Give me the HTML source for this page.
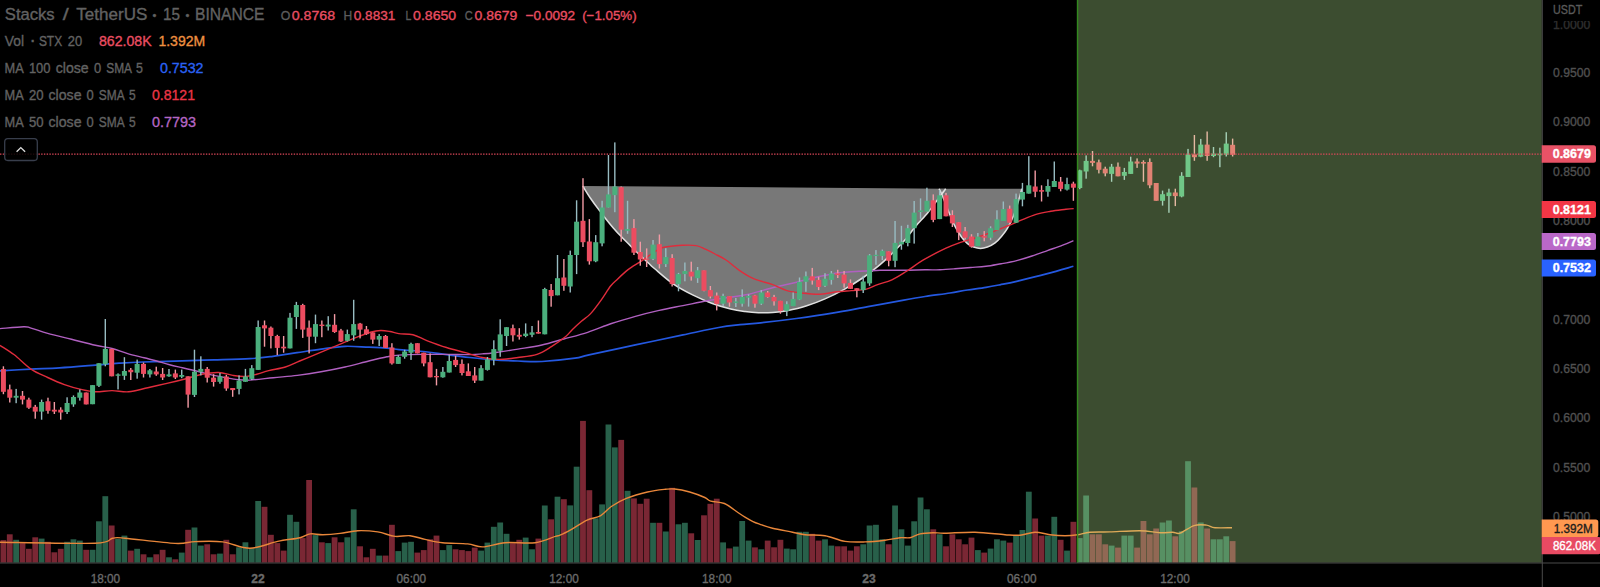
<!DOCTYPE html>
<html><head><meta charset="utf-8"><title>STXUSDT chart</title>
<style>
html,body{margin:0;padding:0;background:#000;width:1600px;height:587px;overflow:hidden}
svg text{font-family:"Liberation Sans",sans-serif;stroke-width:0.35px;paint-order:stroke}
</style></head><body>
<svg width="1600" height="587" viewBox="0 0 1600 587" style="position:absolute;left:0;top:0">
<rect width="1600" height="587" fill="#000"/>
<path d="M582.7,186.0C584.0,188.0 587.5,193.9 590.3,198.0C593.1,202.1 596.9,207.2 599.5,210.6C602.1,214.0 603.4,215.8 605.7,218.7C608.0,221.6 610.8,225.0 613.3,227.9C615.8,230.8 618.4,233.6 621.0,236.3C623.6,239.0 626.2,241.4 628.7,244.0C631.2,246.6 633.8,249.2 636.3,251.7C638.8,254.2 641.7,256.8 644.0,259.0C646.3,261.2 648.5,263.1 650.2,264.7C651.9,266.3 650.5,265.3 654.4,268.5C658.3,271.7 667.1,279.7 673.5,284.1C679.9,288.5 686.2,291.7 692.6,294.9C699.0,298.1 705.2,300.8 711.6,303.2C718.0,305.6 725.1,307.6 730.7,309.0C736.3,310.4 740.4,310.9 745.0,311.5C749.6,312.1 753.8,312.5 758.4,312.7C763.0,312.9 767.9,312.8 772.7,312.5C777.5,312.2 781.5,311.9 787.0,310.8C792.5,309.7 799.7,308.1 806.0,306.1C812.3,304.1 818.6,301.7 825.0,298.9C831.4,296.1 837.8,293.0 844.2,289.4C850.6,285.8 857.7,281.3 863.3,277.5C868.9,273.7 872.8,270.7 877.6,266.7C882.4,262.7 888.2,257.2 891.9,253.6C895.6,250.0 897.6,247.7 900.0,245.2C902.4,242.7 903.7,241.6 906.2,238.5C908.8,235.4 911.7,231.0 915.3,226.7C918.9,222.4 924.0,217.2 927.6,212.9C931.2,208.6 934.5,203.8 936.8,200.7C939.1,197.6 939.9,196.5 941.4,194.5C942.9,192.5 945.0,189.7 945.7,188.7 Z" fill="#787878"/>
<path d="M939.1,188.7C939.6,189.8 940.5,191.3 942.2,195.3C943.9,199.3 946.9,207.7 949.1,212.9C951.3,218.1 953.2,222.7 955.2,226.7C957.2,230.7 959.2,233.9 961.3,236.7C963.3,239.5 965.5,241.9 967.5,243.6C969.5,245.3 971.4,246.3 973.6,247.1C975.8,247.9 978.2,248.5 980.5,248.5C982.8,248.5 985.0,248.0 987.4,247.1C989.8,246.2 992.8,244.6 995.1,242.9C997.4,241.2 999.2,239.1 1001.2,236.7C1003.2,234.3 1005.4,231.8 1007.4,228.3C1009.4,224.9 1011.7,220.3 1013.5,216.0C1015.3,211.7 1016.7,206.8 1018.1,202.2C1019.5,197.6 1021.3,190.9 1021.9,188.7 Z" fill="#787878"/>
<path d="M582.7,186.0C584.0,188.0 587.5,193.9 590.3,198.0C593.1,202.1 596.9,207.2 599.5,210.6C602.1,214.0 603.4,215.8 605.7,218.7C608.0,221.6 610.8,225.0 613.3,227.9C615.8,230.8 618.4,233.6 621.0,236.3C623.6,239.0 626.2,241.4 628.7,244.0C631.2,246.6 633.8,249.2 636.3,251.7C638.8,254.2 641.7,256.8 644.0,259.0C646.3,261.2 648.5,263.1 650.2,264.7C651.9,266.3 650.5,265.3 654.4,268.5C658.3,271.7 667.1,279.7 673.5,284.1C679.9,288.5 686.2,291.7 692.6,294.9C699.0,298.1 705.2,300.8 711.6,303.2C718.0,305.6 725.1,307.6 730.7,309.0C736.3,310.4 740.4,310.9 745.0,311.5C749.6,312.1 753.8,312.5 758.4,312.7C763.0,312.9 767.9,312.8 772.7,312.5C777.5,312.2 781.5,311.9 787.0,310.8C792.5,309.7 799.7,308.1 806.0,306.1C812.3,304.1 818.6,301.7 825.0,298.9C831.4,296.1 837.8,293.0 844.2,289.4C850.6,285.8 857.7,281.3 863.3,277.5C868.9,273.7 872.8,270.7 877.6,266.7C882.4,262.7 888.2,257.2 891.9,253.6C895.6,250.0 897.6,247.7 900.0,245.2C902.4,242.7 903.7,241.6 906.2,238.5C908.8,235.4 911.7,231.0 915.3,226.7C918.9,222.4 924.0,217.2 927.6,212.9C931.2,208.6 934.5,203.8 936.8,200.7C939.1,197.6 939.9,196.5 941.4,194.5C942.9,192.5 945.0,189.7 945.7,188.7" fill="none" stroke="#e0e0e0" stroke-width="1.55" stroke-linejoin="round"/>
<path d="M939.1,188.7C939.6,189.8 940.5,191.3 942.2,195.3C943.9,199.3 946.9,207.7 949.1,212.9C951.3,218.1 953.2,222.7 955.2,226.7C957.2,230.7 959.2,233.9 961.3,236.7C963.3,239.5 965.5,241.9 967.5,243.6C969.5,245.3 971.4,246.3 973.6,247.1C975.8,247.9 978.2,248.5 980.5,248.5C982.8,248.5 985.0,248.0 987.4,247.1C989.8,246.2 992.8,244.6 995.1,242.9C997.4,241.2 999.2,239.1 1001.2,236.7C1003.2,234.3 1005.4,231.8 1007.4,228.3C1009.4,224.9 1011.7,220.3 1013.5,216.0C1015.3,211.7 1016.7,206.8 1018.1,202.2C1019.5,197.6 1021.3,190.9 1021.9,188.7" fill="none" stroke="#e0e0e0" stroke-width="1.55" stroke-linejoin="round"/>
<g>
<rect x="0.50" y="540.1" width="5.8" height="22.5" fill="#7a2734"/>
<rect x="6.87" y="534.3" width="5.8" height="28.3" fill="#7a2734"/>
<rect x="13.24" y="539.8" width="5.8" height="22.8" fill="#28604a"/>
<rect x="19.61" y="543.1" width="5.8" height="19.5" fill="#7a2734"/>
<rect x="25.98" y="548.8" width="5.8" height="13.8" fill="#7a2734"/>
<rect x="32.34" y="537.3" width="5.8" height="25.3" fill="#7a2734"/>
<rect x="38.71" y="538.6" width="5.8" height="24.0" fill="#28604a"/>
<rect x="45.08" y="541.8" width="5.8" height="20.8" fill="#7a2734"/>
<rect x="51.45" y="552.3" width="5.8" height="10.3" fill="#7a2734"/>
<rect x="57.82" y="548.8" width="5.8" height="13.8" fill="#7a2734"/>
<rect x="64.19" y="541.8" width="5.8" height="20.8" fill="#28604a"/>
<rect x="70.56" y="539.3" width="5.8" height="23.3" fill="#28604a"/>
<rect x="76.93" y="540.6" width="5.8" height="22.0" fill="#28604a"/>
<rect x="83.30" y="549.8" width="5.8" height="12.8" fill="#7a2734"/>
<rect x="89.67" y="549.8" width="5.8" height="12.8" fill="#28604a"/>
<rect x="96.03" y="521.3" width="5.8" height="41.3" fill="#28604a"/>
<rect x="102.40" y="496.2" width="5.8" height="66.4" fill="#28604a"/>
<rect x="108.77" y="525.5" width="5.8" height="37.1" fill="#7a2734"/>
<rect x="115.14" y="538.8" width="5.8" height="23.8" fill="#28604a"/>
<rect x="121.51" y="535.6" width="5.8" height="27.0" fill="#28604a"/>
<rect x="127.88" y="550.6" width="5.8" height="12.0" fill="#7a2734"/>
<rect x="134.25" y="548.8" width="5.8" height="13.8" fill="#28604a"/>
<rect x="140.62" y="554.3" width="5.8" height="8.3" fill="#7a2734"/>
<rect x="146.99" y="557.3" width="5.8" height="5.3" fill="#28604a"/>
<rect x="153.36" y="554.3" width="5.8" height="8.3" fill="#7a2734"/>
<rect x="159.72" y="549.8" width="5.8" height="12.8" fill="#7a2734"/>
<rect x="166.09" y="557.3" width="5.8" height="5.3" fill="#28604a"/>
<rect x="172.46" y="559.3" width="5.8" height="3.3" fill="#7a2734"/>
<rect x="178.83" y="552.6" width="5.8" height="10.0" fill="#28604a"/>
<rect x="185.20" y="529.8" width="5.8" height="32.8" fill="#7a2734"/>
<rect x="191.57" y="527.5" width="5.8" height="35.1" fill="#28604a"/>
<rect x="197.94" y="545.6" width="5.8" height="17.0" fill="#28604a"/>
<rect x="204.31" y="544.3" width="5.8" height="18.3" fill="#7a2734"/>
<rect x="210.68" y="554.3" width="5.8" height="8.3" fill="#7a2734"/>
<rect x="217.05" y="553.6" width="5.8" height="9.0" fill="#28604a"/>
<rect x="223.41" y="539.8" width="5.8" height="22.8" fill="#7a2734"/>
<rect x="229.78" y="554.3" width="5.8" height="8.3" fill="#7a2734"/>
<rect x="236.15" y="547.3" width="5.8" height="15.3" fill="#28604a"/>
<rect x="242.52" y="542.3" width="5.8" height="20.3" fill="#28604a"/>
<rect x="248.89" y="548.1" width="5.8" height="14.5" fill="#28604a"/>
<rect x="255.26" y="501.0" width="5.8" height="61.6" fill="#28604a"/>
<rect x="261.63" y="506.8" width="5.8" height="55.8" fill="#7a2734"/>
<rect x="268.00" y="534.8" width="5.8" height="27.8" fill="#7a2734"/>
<rect x="274.37" y="543.1" width="5.8" height="19.5" fill="#7a2734"/>
<rect x="280.74" y="550.6" width="5.8" height="12.0" fill="#7a2734"/>
<rect x="287.11" y="514.8" width="5.8" height="47.8" fill="#28604a"/>
<rect x="293.47" y="521.8" width="5.8" height="40.8" fill="#28604a"/>
<rect x="299.84" y="538.1" width="5.8" height="24.5" fill="#7a2734"/>
<rect x="306.21" y="480.0" width="5.8" height="82.6" fill="#7a2734"/>
<rect x="312.58" y="535.1" width="5.8" height="27.5" fill="#28604a"/>
<rect x="318.95" y="542.3" width="5.8" height="20.3" fill="#7a2734"/>
<rect x="325.32" y="543.1" width="5.8" height="19.5" fill="#28604a"/>
<rect x="331.69" y="537.3" width="5.8" height="25.3" fill="#7a2734"/>
<rect x="338.06" y="542.3" width="5.8" height="20.3" fill="#7a2734"/>
<rect x="344.43" y="537.3" width="5.8" height="25.3" fill="#28604a"/>
<rect x="350.79" y="509.3" width="5.8" height="53.3" fill="#28604a"/>
<rect x="357.16" y="546.3" width="5.8" height="16.3" fill="#7a2734"/>
<rect x="363.53" y="557.3" width="5.8" height="5.3" fill="#7a2734"/>
<rect x="369.90" y="548.8" width="5.8" height="13.8" fill="#7a2734"/>
<rect x="376.27" y="555.6" width="5.8" height="7.0" fill="#28604a"/>
<rect x="382.64" y="555.6" width="5.8" height="7.0" fill="#7a2734"/>
<rect x="389.01" y="524.8" width="5.8" height="37.8" fill="#7a2734"/>
<rect x="395.38" y="551.1" width="5.8" height="11.5" fill="#28604a"/>
<rect x="401.75" y="542.6" width="5.8" height="20.0" fill="#28604a"/>
<rect x="408.12" y="541.8" width="5.8" height="20.8" fill="#28604a"/>
<rect x="414.49" y="552.6" width="5.8" height="10.0" fill="#7a2734"/>
<rect x="420.85" y="550.1" width="5.8" height="12.5" fill="#7a2734"/>
<rect x="427.22" y="539.3" width="5.8" height="23.3" fill="#7a2734"/>
<rect x="433.59" y="535.6" width="5.8" height="27.0" fill="#7a2734"/>
<rect x="439.96" y="550.1" width="5.8" height="12.5" fill="#28604a"/>
<rect x="446.33" y="545.1" width="5.8" height="17.5" fill="#28604a"/>
<rect x="452.70" y="549.3" width="5.8" height="13.3" fill="#7a2734"/>
<rect x="459.07" y="550.1" width="5.8" height="12.5" fill="#7a2734"/>
<rect x="465.44" y="551.1" width="5.8" height="11.5" fill="#7a2734"/>
<rect x="471.81" y="547.6" width="5.8" height="15.0" fill="#7a2734"/>
<rect x="478.17" y="550.6" width="5.8" height="12.0" fill="#28604a"/>
<rect x="484.54" y="542.6" width="5.8" height="20.0" fill="#28604a"/>
<rect x="490.91" y="526.8" width="5.8" height="35.8" fill="#28604a"/>
<rect x="497.28" y="522.5" width="5.8" height="40.1" fill="#28604a"/>
<rect x="503.65" y="533.8" width="5.8" height="28.8" fill="#28604a"/>
<rect x="510.02" y="543.1" width="5.8" height="19.5" fill="#7a2734"/>
<rect x="516.39" y="539.8" width="5.8" height="22.8" fill="#7a2734"/>
<rect x="522.76" y="537.6" width="5.8" height="25.0" fill="#28604a"/>
<rect x="529.13" y="549.3" width="5.8" height="13.3" fill="#28604a"/>
<rect x="535.50" y="538.6" width="5.8" height="24.0" fill="#7a2734"/>
<rect x="541.87" y="505.5" width="5.8" height="57.1" fill="#28604a"/>
<rect x="548.23" y="519.3" width="5.8" height="43.3" fill="#7a2734"/>
<rect x="554.60" y="496.7" width="5.8" height="65.9" fill="#28604a"/>
<rect x="560.97" y="499.2" width="5.8" height="63.4" fill="#7a2734"/>
<rect x="567.34" y="505.4" width="5.8" height="57.2" fill="#28604a"/>
<rect x="573.71" y="466.7" width="5.8" height="95.9" fill="#28604a"/>
<rect x="580.08" y="420.9" width="5.8" height="141.7" fill="#7a2734"/>
<rect x="586.45" y="490.2" width="5.8" height="72.4" fill="#7a2734"/>
<rect x="592.82" y="518.3" width="5.8" height="44.3" fill="#28604a"/>
<rect x="599.19" y="504.4" width="5.8" height="58.2" fill="#28604a"/>
<rect x="605.55" y="424.5" width="5.8" height="138.1" fill="#28604a"/>
<rect x="611.92" y="447.4" width="5.8" height="115.2" fill="#28604a"/>
<rect x="618.29" y="439.9" width="5.8" height="122.7" fill="#7a2734"/>
<rect x="624.66" y="490.8" width="5.8" height="71.8" fill="#28604a"/>
<rect x="631.03" y="498.4" width="5.8" height="64.2" fill="#7a2734"/>
<rect x="637.40" y="503.8" width="5.8" height="58.8" fill="#7a2734"/>
<rect x="643.77" y="498.7" width="5.8" height="63.9" fill="#7a2734"/>
<rect x="650.14" y="522.8" width="5.8" height="39.8" fill="#28604a"/>
<rect x="656.51" y="522.8" width="5.8" height="39.8" fill="#7a2734"/>
<rect x="662.88" y="531.5" width="5.8" height="31.1" fill="#28604a"/>
<rect x="669.25" y="487.8" width="5.8" height="74.8" fill="#7a2734"/>
<rect x="675.61" y="524.3" width="5.8" height="38.3" fill="#28604a"/>
<rect x="681.98" y="522.8" width="5.8" height="39.8" fill="#28604a"/>
<rect x="688.35" y="533.3" width="5.8" height="29.3" fill="#7a2734"/>
<rect x="694.72" y="540.0" width="5.8" height="22.6" fill="#28604a"/>
<rect x="701.09" y="515.3" width="5.8" height="47.3" fill="#7a2734"/>
<rect x="707.46" y="503.8" width="5.8" height="58.8" fill="#7a2734"/>
<rect x="713.83" y="498.7" width="5.8" height="63.9" fill="#7a2734"/>
<rect x="720.20" y="542.4" width="5.8" height="20.2" fill="#28604a"/>
<rect x="726.57" y="548.4" width="5.8" height="14.2" fill="#7a2734"/>
<rect x="732.93" y="546.6" width="5.8" height="16.0" fill="#28604a"/>
<rect x="739.30" y="521.0" width="5.8" height="41.6" fill="#28604a"/>
<rect x="745.67" y="540.6" width="5.8" height="22.0" fill="#28604a"/>
<rect x="752.04" y="547.4" width="5.8" height="15.2" fill="#7a2734"/>
<rect x="758.41" y="549.3" width="5.8" height="13.3" fill="#28604a"/>
<rect x="764.78" y="540.6" width="5.8" height="22.0" fill="#7a2734"/>
<rect x="771.15" y="547.3" width="5.8" height="15.3" fill="#7a2734"/>
<rect x="777.52" y="539.8" width="5.8" height="22.8" fill="#7a2734"/>
<rect x="783.89" y="548.6" width="5.8" height="14.0" fill="#28604a"/>
<rect x="790.26" y="549.3" width="5.8" height="13.3" fill="#28604a"/>
<rect x="796.62" y="531.8" width="5.8" height="30.8" fill="#28604a"/>
<rect x="802.99" y="531.8" width="5.8" height="30.8" fill="#28604a"/>
<rect x="809.36" y="533.8" width="5.8" height="28.8" fill="#7a2734"/>
<rect x="815.73" y="540.6" width="5.8" height="22.0" fill="#7a2734"/>
<rect x="822.10" y="539.3" width="5.8" height="23.3" fill="#28604a"/>
<rect x="828.47" y="545.6" width="5.8" height="17.0" fill="#28604a"/>
<rect x="834.84" y="546.3" width="5.8" height="16.3" fill="#7a2734"/>
<rect x="841.21" y="546.3" width="5.8" height="16.3" fill="#7a2734"/>
<rect x="847.58" y="550.6" width="5.8" height="12.0" fill="#7a2734"/>
<rect x="853.95" y="546.3" width="5.8" height="16.3" fill="#7a2734"/>
<rect x="860.31" y="544.3" width="5.8" height="18.3" fill="#28604a"/>
<rect x="866.68" y="525.5" width="5.8" height="37.1" fill="#28604a"/>
<rect x="873.05" y="524.8" width="5.8" height="37.8" fill="#28604a"/>
<rect x="879.42" y="539.3" width="5.8" height="23.3" fill="#28604a"/>
<rect x="885.79" y="544.3" width="5.8" height="18.3" fill="#7a2734"/>
<rect x="892.16" y="505.5" width="5.8" height="57.1" fill="#28604a"/>
<rect x="898.53" y="529.3" width="5.8" height="33.3" fill="#28604a"/>
<rect x="904.90" y="545.6" width="5.8" height="17.0" fill="#28604a"/>
<rect x="911.27" y="521.3" width="5.8" height="41.3" fill="#28604a"/>
<rect x="917.64" y="497.5" width="5.8" height="65.1" fill="#28604a"/>
<rect x="924.00" y="509.3" width="5.8" height="53.3" fill="#28604a"/>
<rect x="930.37" y="529.3" width="5.8" height="33.3" fill="#7a2734"/>
<rect x="936.74" y="534.3" width="5.8" height="28.3" fill="#28604a"/>
<rect x="943.11" y="546.3" width="5.8" height="16.3" fill="#7a2734"/>
<rect x="949.48" y="534.3" width="5.8" height="28.3" fill="#7a2734"/>
<rect x="955.85" y="539.3" width="5.8" height="23.3" fill="#7a2734"/>
<rect x="962.22" y="544.3" width="5.8" height="18.3" fill="#7a2734"/>
<rect x="968.59" y="537.6" width="5.8" height="25.0" fill="#7a2734"/>
<rect x="974.96" y="550.1" width="5.8" height="12.5" fill="#28604a"/>
<rect x="981.33" y="552.6" width="5.8" height="10.0" fill="#7a2734"/>
<rect x="987.69" y="548.6" width="5.8" height="14.0" fill="#28604a"/>
<rect x="994.06" y="539.3" width="5.8" height="23.3" fill="#28604a"/>
<rect x="1000.43" y="540.6" width="5.8" height="22.0" fill="#28604a"/>
<rect x="1006.80" y="542.6" width="5.8" height="20.0" fill="#7a2734"/>
<rect x="1013.17" y="535.6" width="5.8" height="27.0" fill="#28604a"/>
<rect x="1019.54" y="530.0" width="5.8" height="32.6" fill="#28604a"/>
<rect x="1025.91" y="491.7" width="5.8" height="70.9" fill="#28604a"/>
<rect x="1032.28" y="518.5" width="5.8" height="44.1" fill="#7a2734"/>
<rect x="1038.65" y="535.6" width="5.8" height="27.0" fill="#7a2734"/>
<rect x="1045.02" y="535.6" width="5.8" height="27.0" fill="#28604a"/>
<rect x="1051.38" y="516.8" width="5.8" height="45.8" fill="#28604a"/>
<rect x="1057.75" y="539.8" width="5.8" height="22.8" fill="#7a2734"/>
<rect x="1064.12" y="550.6" width="5.8" height="12.0" fill="#28604a"/>
<rect x="1070.49" y="521.8" width="5.8" height="40.8" fill="#7a2734"/>
<rect x="1076.86" y="538.1" width="5.8" height="24.5" fill="#28604a"/>
<rect x="1083.23" y="495.5" width="5.8" height="67.1" fill="#28604a"/>
<rect x="1089.60" y="534.3" width="5.8" height="28.3" fill="#7a2734"/>
<rect x="1095.97" y="534.3" width="5.8" height="28.3" fill="#7a2734"/>
<rect x="1102.34" y="544.3" width="5.8" height="18.3" fill="#7a2734"/>
<rect x="1108.71" y="545.6" width="5.8" height="17.0" fill="#28604a"/>
<rect x="1115.08" y="547.6" width="5.8" height="15.0" fill="#7a2734"/>
<rect x="1121.44" y="535.6" width="5.8" height="27.0" fill="#28604a"/>
<rect x="1127.81" y="535.6" width="5.8" height="27.0" fill="#28604a"/>
<rect x="1134.18" y="547.6" width="5.8" height="15.0" fill="#7a2734"/>
<rect x="1140.55" y="521.0" width="5.8" height="41.6" fill="#7a2734"/>
<rect x="1146.92" y="534.3" width="5.8" height="28.3" fill="#7a2734"/>
<rect x="1153.29" y="528.5" width="5.8" height="34.1" fill="#7a2734"/>
<rect x="1159.66" y="522.5" width="5.8" height="40.1" fill="#28604a"/>
<rect x="1166.03" y="520.5" width="5.8" height="42.1" fill="#28604a"/>
<rect x="1172.40" y="536.3" width="5.8" height="26.3" fill="#7a2734"/>
<rect x="1178.76" y="531.3" width="5.8" height="31.3" fill="#28604a"/>
<rect x="1185.13" y="461.2" width="5.8" height="101.4" fill="#28604a"/>
<rect x="1191.50" y="487.5" width="5.8" height="75.1" fill="#7a2734"/>
<rect x="1197.87" y="522.5" width="5.8" height="40.1" fill="#28604a"/>
<rect x="1204.24" y="528.5" width="5.8" height="34.1" fill="#7a2734"/>
<rect x="1210.61" y="539.3" width="5.8" height="23.3" fill="#28604a"/>
<rect x="1216.98" y="539.3" width="5.8" height="23.3" fill="#28604a"/>
<rect x="1223.35" y="536.3" width="5.8" height="26.3" fill="#28604a"/>
<rect x="1229.72" y="541.1" width="5.8" height="21.5" fill="#7a2734"/>
</g>
<path d="M0.0,542.2C15.8,542.4 76.2,543.9 95.0,543.2C113.8,542.5 107.7,539.0 112.7,538.2C117.7,537.4 114.6,537.3 125.0,538.2C135.4,539.1 163.3,542.8 175.0,543.4C186.7,544.0 187.1,541.9 195.0,541.6C202.9,541.4 213.4,540.8 222.6,541.9C231.8,543.0 240.8,548.3 250.0,548.2C259.2,548.1 269.4,543.1 277.7,541.4C286.0,539.6 294.6,539.0 300.0,537.7C305.4,536.5 306.4,534.4 310.2,533.9C314.0,533.4 317.7,534.8 322.7,534.7C327.7,534.6 334.1,534.1 340.0,533.4C345.9,532.7 351.5,531.0 357.8,530.7C364.1,530.5 371.6,531.0 377.8,531.9C384.0,532.8 389.6,535.8 395.0,536.4C400.4,537.0 405.0,535.2 410.0,535.7C415.0,536.2 419.6,538.2 425.0,539.4C430.4,540.6 435.5,542.0 442.6,542.7C449.7,543.5 461.0,543.2 467.7,543.9C474.4,544.6 476.4,547.1 482.7,546.9C488.9,546.7 496.4,543.4 505.2,542.7C514.0,542.0 526.9,543.8 535.3,542.7C543.6,541.7 551.2,537.6 555.3,536.4C559.4,535.1 557.2,536.4 560.0,535.2C562.8,534.0 567.5,531.6 572.0,529.1C576.5,526.6 582.3,522.4 587.1,520.1C591.9,517.9 596.7,517.9 600.7,515.6C604.7,513.3 607.0,509.4 611.3,506.5C615.6,503.6 620.3,500.8 626.3,498.4C632.3,496.0 641.0,493.5 647.5,492.0C654.0,490.5 661.0,489.8 665.5,489.3C670.0,488.8 670.6,488.6 674.6,489.0C678.6,489.4 684.7,490.6 689.7,492.0C694.7,493.4 701.3,496.0 704.8,497.5C708.3,499.0 707.5,500.1 710.8,501.1C714.1,502.1 719.9,501.6 724.4,503.5C728.9,505.4 734.5,510.2 737.9,512.5C741.3,514.8 742.5,515.6 745.0,517.1C747.5,518.6 750.5,520.4 753.0,521.6C755.5,522.8 756.8,523.2 760.0,524.3C763.2,525.4 767.1,526.9 772.5,528.2C777.9,529.5 787.2,531.1 792.6,532.2C798.0,533.3 799.6,534.1 805.0,534.7C810.4,535.3 818.3,534.6 825.0,535.7C831.7,536.8 838.3,540.4 845.0,541.4C851.7,542.4 858.3,542.1 865.0,541.9C871.7,541.7 879.2,540.9 885.0,540.2C890.8,539.5 895.8,538.1 900.0,537.7C904.2,537.3 906.7,538.3 910.0,537.7C913.3,537.1 916.2,534.7 920.0,533.9C923.8,533.1 928.8,532.8 933.0,532.7C937.2,532.6 938.0,533.3 945.0,533.2C952.0,533.1 965.0,532.0 975.0,532.2C985.0,532.5 997.5,534.2 1005.0,534.7C1012.5,535.2 1015.0,535.6 1020.0,535.2C1025.0,534.8 1030.0,532.3 1035.0,532.2C1040.0,532.1 1045.0,534.1 1050.0,534.7C1055.0,535.3 1060.4,535.7 1065.0,535.7C1069.6,535.7 1073.6,535.3 1077.8,534.7C1082.0,534.1 1084.6,532.7 1090.0,532.2C1095.4,531.7 1101.7,532.1 1110.0,531.9C1118.3,531.6 1131.7,530.6 1140.0,530.7C1148.3,530.8 1154.6,532.5 1160.0,532.7C1165.4,533.0 1169.3,532.1 1172.6,532.2C1175.9,532.3 1176.4,534.3 1180.0,533.2C1183.6,532.1 1189.6,527.0 1194.0,525.6C1198.4,524.2 1202.9,524.8 1206.4,525.1C1209.9,525.5 1210.7,527.3 1215.0,527.7C1219.3,528.1 1229.2,527.7 1232.0,527.7" fill="none" stroke="#e8863a" stroke-width="1.4"/>
<path d="M0.0,370.8C5.2,370.5 21.1,369.6 31.0,369.1C40.9,368.6 48.9,368.6 59.6,367.9C70.3,367.2 85.5,365.9 95.4,365.1C105.3,364.3 111.1,363.7 119.0,363.2C126.9,362.7 131.2,362.4 143.0,362.0C154.8,361.6 178.2,361.0 190.0,360.6C201.8,360.2 204.0,360.2 214.0,359.9C224.0,359.6 240.2,359.3 250.0,358.7C259.8,358.1 265.2,357.3 273.0,356.3C280.8,355.3 289.0,353.9 297.0,352.7C305.0,351.5 313.0,350.2 321.0,349.1C329.0,348.0 337.0,346.6 345.0,346.3C353.0,346.0 361.5,346.9 369.0,347.2C376.5,347.5 385.0,348.0 390.0,348.4C395.0,348.8 393.5,349.1 399.0,349.6C404.5,350.1 415.1,350.7 423.0,351.5C430.9,352.3 438.7,353.6 446.5,354.6C454.3,355.6 462.1,356.6 470.0,357.5C477.9,358.4 486.0,359.3 494.0,359.9C502.0,360.5 510.0,360.7 518.0,361.0C526.0,361.3 532.5,362.0 542.0,361.5C551.5,361.0 567.2,359.3 575.0,358.2C582.8,357.1 578.9,357.1 589.0,354.9C599.1,352.7 619.7,348.2 635.4,344.9C651.1,341.6 669.1,337.8 683.0,334.9C696.9,332.0 709.3,329.2 718.8,327.5C728.3,325.8 733.0,325.5 740.0,324.7C747.0,323.9 751.4,323.8 760.8,322.8C770.2,321.8 784.6,320.1 796.5,318.5C808.4,316.9 820.4,315.2 832.3,313.2C844.2,311.2 856.1,308.8 868.0,306.6C879.9,304.4 894.3,301.8 903.8,300.1C913.3,298.4 917.3,297.7 925.0,296.5C932.7,295.3 942.9,294.1 950.0,293.0C957.1,291.9 961.6,290.9 967.6,290.0C973.6,289.1 980.6,288.3 986.0,287.4C991.4,286.5 994.9,285.8 1000.0,284.8C1005.1,283.8 1008.8,283.2 1016.7,281.3C1024.6,279.4 1038.0,276.1 1047.4,273.6C1056.9,271.1 1069.1,267.5 1073.4,266.3" fill="none" stroke="#2458e0" stroke-width="1.7"/>
<path d="M0.0,328.6C4.0,328.3 18.6,326.8 23.8,326.7C29.0,326.6 27.0,327.0 31.0,328.1C35.0,329.2 41.0,331.5 47.7,333.4C54.5,335.3 63.5,337.3 71.5,339.3C79.5,341.3 88.7,343.8 95.4,345.3C102.2,346.8 106.7,347.2 112.0,348.5C117.3,349.8 121.7,351.8 127.0,353.3C132.3,354.9 139.1,356.5 144.1,357.8C149.1,359.1 152.6,359.8 156.8,361.0C161.1,362.2 165.3,363.7 169.6,364.8C173.9,365.9 178.1,366.8 182.4,367.8C186.7,368.8 191.6,370.0 195.2,370.8C198.8,371.6 200.6,372.1 203.7,372.9C206.8,373.7 210.1,374.6 213.8,375.4C217.5,376.2 221.8,377.0 225.8,377.7C229.8,378.4 233.7,379.2 237.7,379.6C241.7,380.0 243.7,380.4 249.6,380.1C255.5,379.8 265.4,378.5 273.4,377.7C281.3,376.9 289.4,376.4 297.3,375.4C305.2,374.4 313.1,373.2 321.0,371.8C328.9,370.4 337.0,368.8 345.0,367.0C353.0,365.2 361.8,362.7 368.8,361.0C375.8,359.3 382.0,357.8 387.0,356.8C392.0,355.8 392.9,355.5 398.8,355.1C404.8,354.7 414.8,354.5 422.7,354.4C430.6,354.3 438.6,354.4 446.5,354.4C454.4,354.4 464.4,354.7 470.4,354.6C476.4,354.5 478.3,354.2 482.3,353.9C486.3,353.6 488.2,353.5 494.2,352.7C500.1,351.9 510.1,350.4 518.0,349.1C526.0,347.8 534.3,346.7 541.9,345.0C549.5,343.3 556.2,341.1 563.8,339.0C571.4,336.9 579.8,334.9 587.7,332.3C595.7,329.7 603.5,326.2 611.5,323.5C619.5,320.8 627.4,318.5 635.4,316.3C643.4,314.1 651.3,312.2 659.2,310.4C667.1,308.6 675.0,307.2 683.0,305.6C691.0,304.0 699.9,302.1 706.9,300.8C713.9,299.5 718.0,299.1 725.0,298.0C732.0,296.9 740.8,295.9 748.8,294.2C756.8,292.5 764.8,289.7 772.7,287.7C780.7,285.7 788.5,284.1 796.5,282.2C804.5,280.3 813.2,277.9 820.4,276.3C827.5,274.7 833.5,273.5 839.4,272.7C845.3,271.9 849.2,271.9 856.0,271.5C862.8,271.1 872.0,270.5 880.0,270.3C888.0,270.1 896.3,270.4 903.8,270.3C911.3,270.2 919.0,269.9 925.0,269.8C931.0,269.7 935.0,270.0 940.0,269.8C945.0,269.6 949.9,269.2 955.0,268.8C960.1,268.4 965.5,267.9 970.7,267.5C975.9,267.1 980.9,266.9 986.0,266.3C991.1,265.7 996.2,264.6 1001.3,263.7C1006.4,262.8 1011.6,261.9 1016.7,260.6C1021.8,259.3 1026.9,257.7 1032.0,256.0C1037.1,254.3 1042.3,252.4 1047.4,250.6C1052.5,248.8 1058.4,246.9 1062.7,245.2C1067.0,243.5 1071.6,241.4 1073.4,240.6" fill="none" stroke="#b060c0" stroke-width="1.4"/>
<path d="M0.0,345.3C2.4,346.9 9.1,350.8 14.3,354.8C19.5,358.8 25.4,365.3 31.0,369.1C36.6,372.9 42.1,374.9 47.7,377.5C53.3,380.1 58.9,382.6 64.4,384.6C70.0,386.6 75.8,388.2 81.0,389.4C86.2,390.6 90.2,391.6 95.4,391.8C100.6,392.0 106.5,390.6 112.0,390.6C117.5,390.6 122.7,392.3 128.7,391.8C134.7,391.3 141.4,389.1 147.8,387.7C154.2,386.3 160.5,384.9 166.9,383.4C173.3,381.9 180.2,380.2 186.0,378.7C191.8,377.2 196.6,375.2 202.0,374.2C207.4,373.2 213.4,372.3 218.6,372.5C223.8,372.7 228.5,374.7 232.9,375.4C237.3,376.1 240.8,376.7 244.8,376.5C248.8,376.3 252.7,375.2 256.7,374.2C260.7,373.2 263.9,371.8 268.7,370.6C273.5,369.4 280.2,368.6 285.4,367.0C290.6,365.4 294.9,363.0 299.7,361.0C304.5,359.0 309.2,357.1 314.0,355.1C318.8,353.1 323.5,351.1 328.3,349.1C333.1,347.1 337.8,345.2 342.6,343.2C347.4,341.2 352.1,339.1 356.9,337.2C361.7,335.3 367.2,333.1 371.2,332.0C375.2,330.9 377.6,330.6 380.7,330.5C383.8,330.4 387.0,331.0 390.0,331.5C393.0,332.0 395.0,333.1 398.8,333.6C402.6,334.2 408.2,333.6 413.0,334.8C417.8,336.0 421.8,338.7 427.4,340.8C433.0,342.9 440.1,345.5 446.5,347.5C452.9,349.5 459.6,351.0 465.6,352.7C471.6,354.4 476.7,356.4 482.3,357.5C487.9,358.6 493.1,359.4 499.0,359.4C504.9,359.4 511.7,358.3 518.0,357.5C524.3,356.7 531.4,356.2 537.0,354.4C542.6,352.6 546.6,349.7 551.4,346.7C556.2,343.7 562.2,339.3 565.7,336.5C569.2,333.7 569.6,332.2 572.2,329.7C574.8,327.2 578.3,324.0 581.4,321.3C584.5,318.6 587.3,317.2 590.6,313.6C593.9,310.0 598.0,304.4 601.3,299.8C604.6,295.2 608.0,289.3 610.6,286.0C613.2,282.7 614.2,282.3 616.7,279.9C619.2,277.5 623.4,273.6 625.9,271.4C628.4,269.2 629.7,268.3 632.0,266.8C634.3,265.3 637.1,263.9 639.7,262.2C642.3,260.5 645.1,258.5 647.4,256.9C649.7,255.3 651.2,253.9 653.5,252.5C655.8,251.1 658.6,249.3 660.9,248.4C663.1,247.5 663.4,247.3 667.0,246.8C670.6,246.3 677.5,245.5 682.4,245.3C687.3,245.1 692.4,244.9 696.2,245.6C700.0,246.2 702.3,247.8 705.4,249.2C708.5,250.6 711.6,252.2 715.0,254.0C718.4,255.8 722.0,257.3 726.0,260.0C730.0,262.7 734.7,267.2 739.3,270.3C743.9,273.4 748.0,276.3 753.6,278.7C759.2,281.1 767.1,282.6 772.7,284.6C778.3,286.6 782.2,289.2 787.0,290.6C791.8,292.0 795.7,292.4 801.3,293.0C806.9,293.6 814.4,294.4 820.4,294.2C826.4,294.0 831.9,292.4 837.0,291.8C842.1,291.2 846.5,291.0 851.3,290.6C856.1,290.2 861.2,290.4 865.6,289.4C870.0,288.4 873.2,286.2 877.6,284.6C882.0,283.0 887.1,282.1 891.9,279.9C896.7,277.7 901.0,274.8 906.2,271.5C911.4,268.2 916.4,264.1 923.0,260.2C929.6,256.3 939.6,251.2 946.0,248.2C952.4,245.2 956.2,243.9 961.3,242.1C966.4,240.3 971.6,239.2 976.7,237.5C981.8,235.8 986.9,234.0 992.0,232.1C997.1,230.2 1002.7,227.9 1007.4,226.0C1012.1,224.1 1015.4,222.6 1020.0,220.7C1024.7,218.8 1030.2,216.2 1035.3,214.6C1040.4,213.0 1045.6,212.2 1050.7,211.3C1055.8,210.4 1062.2,209.8 1066.0,209.3C1069.8,208.9 1072.4,208.7 1073.7,208.6" fill="none" stroke="#e02c3c" stroke-width="1.4"/>
<g>
<rect x="2.70" y="366.3" width="1.4" height="27.9" fill="#f29aa4"/>
<rect x="0.90" y="369.1" width="5" height="22.7" fill="#ec4c60"/>
<rect x="9.07" y="384.6" width="1.4" height="17.9" fill="#f29aa4"/>
<rect x="7.27" y="389.4" width="5" height="8.3" fill="#ec4c60"/>
<rect x="15.44" y="388.9" width="1.4" height="14.3" fill="#98bcc2"/>
<rect x="13.64" y="395.8" width="5" height="1.9" fill="#4baf7d"/>
<rect x="21.81" y="391.0" width="1.4" height="13.4" fill="#f29aa4"/>
<rect x="20.01" y="395.8" width="5" height="3.8" fill="#ec4c60"/>
<rect x="28.18" y="397.7" width="1.4" height="11.2" fill="#f29aa4"/>
<rect x="26.38" y="399.6" width="5" height="8.1" fill="#ec4c60"/>
<rect x="34.54" y="404.9" width="1.4" height="13.8" fill="#f29aa4"/>
<rect x="32.74" y="406.8" width="5" height="4.8" fill="#ec4c60"/>
<rect x="40.91" y="399.6" width="1.4" height="20.1" fill="#98bcc2"/>
<rect x="39.11" y="402.0" width="5" height="9.6" fill="#4baf7d"/>
<rect x="47.28" y="397.7" width="1.4" height="16.0" fill="#f29aa4"/>
<rect x="45.48" y="401.3" width="5" height="9.5" fill="#ec4c60"/>
<rect x="53.65" y="402.0" width="1.4" height="12.0" fill="#f29aa4"/>
<rect x="51.85" y="409.7" width="5" height="1.9" fill="#ec4c60"/>
<rect x="60.02" y="407.3" width="1.4" height="12.4" fill="#f29aa4"/>
<rect x="58.22" y="409.7" width="5" height="2.8" fill="#ec4c60"/>
<rect x="66.39" y="397.3" width="1.4" height="16.7" fill="#98bcc2"/>
<rect x="64.59" y="403.0" width="5" height="9.0" fill="#4baf7d"/>
<rect x="72.76" y="395.4" width="1.4" height="11.4" fill="#98bcc2"/>
<rect x="70.96" y="397.0" width="5" height="7.4" fill="#4baf7d"/>
<rect x="79.13" y="389.4" width="1.4" height="11.2" fill="#98bcc2"/>
<rect x="77.33" y="392.5" width="5" height="5.2" fill="#4baf7d"/>
<rect x="85.50" y="392.5" width="1.4" height="11.9" fill="#f29aa4"/>
<rect x="83.70" y="392.5" width="5" height="11.9" fill="#ec4c60"/>
<rect x="91.87" y="385.1" width="1.4" height="19.1" fill="#98bcc2"/>
<rect x="90.07" y="385.1" width="5" height="19.1" fill="#4baf7d"/>
<rect x="98.23" y="363.2" width="1.4" height="23.8" fill="#98bcc2"/>
<rect x="96.44" y="363.2" width="5" height="22.6" fill="#4baf7d"/>
<rect x="104.60" y="319.0" width="1.4" height="47.3" fill="#98bcc2"/>
<rect x="102.80" y="348.9" width="5" height="15.5" fill="#4baf7d"/>
<rect x="110.97" y="348.9" width="1.4" height="27.4" fill="#f29aa4"/>
<rect x="109.17" y="348.9" width="5" height="27.4" fill="#ec4c60"/>
<rect x="117.34" y="373.4" width="1.4" height="16.0" fill="#98bcc2"/>
<rect x="115.54" y="374.4" width="5" height="1.4" fill="#4baf7d"/>
<rect x="123.71" y="357.2" width="1.4" height="22.7" fill="#98bcc2"/>
<rect x="121.91" y="371.0" width="5" height="4.8" fill="#4baf7d"/>
<rect x="130.08" y="368.0" width="1.4" height="12.0" fill="#f29aa4"/>
<rect x="128.28" y="369.8" width="5" height="2.4" fill="#ec4c60"/>
<rect x="136.45" y="359.6" width="1.4" height="19.1" fill="#98bcc2"/>
<rect x="134.65" y="363.9" width="5" height="8.8" fill="#4baf7d"/>
<rect x="142.82" y="362.5" width="1.4" height="15.0" fill="#f29aa4"/>
<rect x="141.02" y="363.9" width="5" height="10.0" fill="#ec4c60"/>
<rect x="149.19" y="369.0" width="1.4" height="8.5" fill="#98bcc2"/>
<rect x="147.39" y="370.3" width="5" height="4.1" fill="#4baf7d"/>
<rect x="155.56" y="366.7" width="1.4" height="9.1" fill="#f29aa4"/>
<rect x="153.76" y="371.5" width="5" height="2.9" fill="#ec4c60"/>
<rect x="161.93" y="368.0" width="1.4" height="12.0" fill="#f29aa4"/>
<rect x="160.12" y="373.9" width="5" height="3.6" fill="#ec4c60"/>
<rect x="168.29" y="369.0" width="1.4" height="7.8" fill="#98bcc2"/>
<rect x="166.49" y="374.4" width="5" height="1.9" fill="#4baf7d"/>
<rect x="174.66" y="369.6" width="1.4" height="9.4" fill="#f29aa4"/>
<rect x="172.86" y="373.4" width="5" height="4.1" fill="#ec4c60"/>
<rect x="181.03" y="369.6" width="1.4" height="8.6" fill="#98bcc2"/>
<rect x="179.23" y="375.0" width="5" height="1.8" fill="#4baf7d"/>
<rect x="187.40" y="376.3" width="1.4" height="31.4" fill="#f29aa4"/>
<rect x="185.60" y="376.3" width="5" height="18.3" fill="#ec4c60"/>
<rect x="193.77" y="349.7" width="1.4" height="47.3" fill="#98bcc2"/>
<rect x="191.97" y="371.7" width="5" height="23.2" fill="#4baf7d"/>
<rect x="200.14" y="356.3" width="1.4" height="19.1" fill="#98bcc2"/>
<rect x="198.34" y="368.9" width="5" height="2.9" fill="#4baf7d"/>
<rect x="206.51" y="367.0" width="1.4" height="15.5" fill="#f29aa4"/>
<rect x="204.71" y="368.9" width="5" height="8.8" fill="#ec4c60"/>
<rect x="212.88" y="374.2" width="1.4" height="12.4" fill="#f29aa4"/>
<rect x="211.08" y="377.7" width="5" height="4.3" fill="#ec4c60"/>
<rect x="219.25" y="373.0" width="1.4" height="10.7" fill="#98bcc2"/>
<rect x="217.45" y="376.5" width="5" height="5.3" fill="#4baf7d"/>
<rect x="225.62" y="374.9" width="1.4" height="15.9" fill="#f29aa4"/>
<rect x="223.81" y="376.5" width="5" height="12.0" fill="#ec4c60"/>
<rect x="231.98" y="388.0" width="1.4" height="8.8" fill="#f29aa4"/>
<rect x="230.18" y="388.0" width="5" height="2.1" fill="#ec4c60"/>
<rect x="238.35" y="375.4" width="1.4" height="19.0" fill="#98bcc2"/>
<rect x="236.55" y="380.6" width="5" height="8.3" fill="#4baf7d"/>
<rect x="244.72" y="368.9" width="1.4" height="12.9" fill="#98bcc2"/>
<rect x="242.92" y="376.5" width="5" height="5.3" fill="#4baf7d"/>
<rect x="251.09" y="365.1" width="1.4" height="15.0" fill="#98bcc2"/>
<rect x="249.29" y="368.2" width="5" height="10.7" fill="#4baf7d"/>
<rect x="257.46" y="320.5" width="1.4" height="49.4" fill="#98bcc2"/>
<rect x="255.66" y="327.0" width="5" height="42.9" fill="#4baf7d"/>
<rect x="263.83" y="320.5" width="1.4" height="26.2" fill="#f29aa4"/>
<rect x="262.03" y="325.3" width="5" height="3.1" fill="#ec4c60"/>
<rect x="270.20" y="326.5" width="1.4" height="21.9" fill="#f29aa4"/>
<rect x="268.40" y="327.7" width="5" height="8.3" fill="#ec4c60"/>
<rect x="276.57" y="334.8" width="1.4" height="20.3" fill="#f29aa4"/>
<rect x="274.77" y="336.0" width="5" height="11.9" fill="#ec4c60"/>
<rect x="282.94" y="336.0" width="1.4" height="16.7" fill="#f29aa4"/>
<rect x="281.14" y="346.7" width="5" height="1.7" fill="#ec4c60"/>
<rect x="289.31" y="312.9" width="1.4" height="35.5" fill="#98bcc2"/>
<rect x="287.50" y="317.7" width="5" height="30.7" fill="#4baf7d"/>
<rect x="295.67" y="301.9" width="1.4" height="27.0" fill="#98bcc2"/>
<rect x="293.87" y="305.0" width="5" height="12.0" fill="#4baf7d"/>
<rect x="302.04" y="303.8" width="1.4" height="34.1" fill="#f29aa4"/>
<rect x="300.24" y="305.0" width="5" height="24.6" fill="#ec4c60"/>
<rect x="308.41" y="320.5" width="1.4" height="32.9" fill="#f29aa4"/>
<rect x="306.61" y="327.7" width="5" height="9.0" fill="#ec4c60"/>
<rect x="314.78" y="314.6" width="1.4" height="28.6" fill="#98bcc2"/>
<rect x="312.98" y="324.1" width="5" height="12.6" fill="#4baf7d"/>
<rect x="321.15" y="320.5" width="1.4" height="16.7" fill="#f29aa4"/>
<rect x="319.35" y="324.6" width="5" height="1.4" fill="#ec4c60"/>
<rect x="327.52" y="316.2" width="1.4" height="14.3" fill="#98bcc2"/>
<rect x="325.72" y="324.6" width="5" height="1.9" fill="#4baf7d"/>
<rect x="333.89" y="314.1" width="1.4" height="18.8" fill="#f29aa4"/>
<rect x="332.09" y="324.8" width="5" height="7.2" fill="#ec4c60"/>
<rect x="340.26" y="328.9" width="1.4" height="13.1" fill="#f29aa4"/>
<rect x="338.46" y="330.5" width="5" height="11.0" fill="#ec4c60"/>
<rect x="346.63" y="329.6" width="1.4" height="11.9" fill="#98bcc2"/>
<rect x="344.83" y="334.1" width="5" height="6.7" fill="#4baf7d"/>
<rect x="352.99" y="299.8" width="1.4" height="41.0" fill="#98bcc2"/>
<rect x="351.19" y="324.1" width="5" height="11.2" fill="#4baf7d"/>
<rect x="359.36" y="322.9" width="1.4" height="15.5" fill="#f29aa4"/>
<rect x="357.56" y="323.6" width="5" height="6.0" fill="#ec4c60"/>
<rect x="365.73" y="326.0" width="1.4" height="8.8" fill="#f29aa4"/>
<rect x="363.93" y="329.3" width="5" height="4.8" fill="#ec4c60"/>
<rect x="372.10" y="332.4" width="1.4" height="11.5" fill="#f29aa4"/>
<rect x="370.30" y="332.4" width="5" height="7.2" fill="#ec4c60"/>
<rect x="378.47" y="334.1" width="1.4" height="11.9" fill="#98bcc2"/>
<rect x="376.67" y="336.0" width="5" height="3.6" fill="#4baf7d"/>
<rect x="384.84" y="335.0" width="1.4" height="12.9" fill="#f29aa4"/>
<rect x="383.04" y="336.0" width="5" height="11.9" fill="#ec4c60"/>
<rect x="391.21" y="343.2" width="1.4" height="21.4" fill="#f29aa4"/>
<rect x="389.41" y="347.5" width="5" height="15.9" fill="#ec4c60"/>
<rect x="397.58" y="355.1" width="1.4" height="8.8" fill="#98bcc2"/>
<rect x="395.78" y="356.8" width="5" height="7.1" fill="#4baf7d"/>
<rect x="403.95" y="349.8" width="1.4" height="8.9" fill="#98bcc2"/>
<rect x="402.15" y="351.5" width="5" height="5.3" fill="#4baf7d"/>
<rect x="410.32" y="342.7" width="1.4" height="17.2" fill="#98bcc2"/>
<rect x="408.52" y="343.9" width="5" height="8.8" fill="#4baf7d"/>
<rect x="416.69" y="343.2" width="1.4" height="10.2" fill="#f29aa4"/>
<rect x="414.88" y="343.2" width="5" height="10.2" fill="#ec4c60"/>
<rect x="423.05" y="352.7" width="1.4" height="13.6" fill="#f29aa4"/>
<rect x="421.25" y="352.7" width="5" height="10.7" fill="#ec4c60"/>
<rect x="429.42" y="353.4" width="1.4" height="23.9" fill="#f29aa4"/>
<rect x="427.62" y="362.2" width="5" height="15.1" fill="#ec4c60"/>
<rect x="435.79" y="368.9" width="1.4" height="16.5" fill="#f29aa4"/>
<rect x="433.99" y="376.0" width="5" height="1.3" fill="#ec4c60"/>
<rect x="442.16" y="367.0" width="1.4" height="10.7" fill="#98bcc2"/>
<rect x="440.36" y="371.8" width="5" height="5.5" fill="#4baf7d"/>
<rect x="448.53" y="354.6" width="1.4" height="17.9" fill="#98bcc2"/>
<rect x="446.73" y="361.0" width="5" height="11.5" fill="#4baf7d"/>
<rect x="454.90" y="355.8" width="1.4" height="11.2" fill="#f29aa4"/>
<rect x="453.10" y="359.9" width="5" height="5.2" fill="#ec4c60"/>
<rect x="461.27" y="359.4" width="1.4" height="16.0" fill="#f29aa4"/>
<rect x="459.47" y="363.9" width="5" height="9.1" fill="#ec4c60"/>
<rect x="467.64" y="363.4" width="1.4" height="12.6" fill="#f29aa4"/>
<rect x="465.84" y="371.3" width="5" height="4.7" fill="#ec4c60"/>
<rect x="474.01" y="367.0" width="1.4" height="16.0" fill="#f29aa4"/>
<rect x="472.21" y="375.4" width="5" height="5.2" fill="#ec4c60"/>
<rect x="480.37" y="365.1" width="1.4" height="15.5" fill="#98bcc2"/>
<rect x="478.57" y="368.2" width="5" height="12.4" fill="#4baf7d"/>
<rect x="486.74" y="357.0" width="1.4" height="13.6" fill="#98bcc2"/>
<rect x="484.94" y="359.4" width="5" height="10.5" fill="#4baf7d"/>
<rect x="493.11" y="340.3" width="1.4" height="25.0" fill="#98bcc2"/>
<rect x="491.31" y="349.1" width="5" height="10.8" fill="#4baf7d"/>
<rect x="499.48" y="319.3" width="1.4" height="37.5" fill="#98bcc2"/>
<rect x="497.68" y="334.4" width="5" height="16.4" fill="#4baf7d"/>
<rect x="505.85" y="327.2" width="1.4" height="18.8" fill="#98bcc2"/>
<rect x="504.05" y="327.2" width="5" height="8.8" fill="#4baf7d"/>
<rect x="512.22" y="324.6" width="1.4" height="16.9" fill="#f29aa4"/>
<rect x="510.42" y="328.2" width="5" height="7.1" fill="#ec4c60"/>
<rect x="518.59" y="328.2" width="1.4" height="11.4" fill="#f29aa4"/>
<rect x="516.79" y="334.8" width="5" height="1.9" fill="#ec4c60"/>
<rect x="524.96" y="323.4" width="1.4" height="13.8" fill="#98bcc2"/>
<rect x="523.16" y="333.6" width="5" height="2.4" fill="#4baf7d"/>
<rect x="531.33" y="326.0" width="1.4" height="11.2" fill="#98bcc2"/>
<rect x="529.53" y="332.4" width="5" height="2.4" fill="#4baf7d"/>
<rect x="537.70" y="320.5" width="1.4" height="13.1" fill="#f29aa4"/>
<rect x="535.90" y="332.0" width="5" height="1.6" fill="#ec4c60"/>
<rect x="544.06" y="287.8" width="1.4" height="46.5" fill="#98bcc2"/>
<rect x="542.26" y="289.0" width="5" height="45.3" fill="#4baf7d"/>
<rect x="550.43" y="284.0" width="1.4" height="22.7" fill="#f29aa4"/>
<rect x="548.63" y="290.0" width="5" height="6.1" fill="#ec4c60"/>
<rect x="556.80" y="255.0" width="1.4" height="40.3" fill="#98bcc2"/>
<rect x="555.00" y="278.2" width="5" height="17.1" fill="#4baf7d"/>
<rect x="563.17" y="259.0" width="1.4" height="31.8" fill="#f29aa4"/>
<rect x="561.37" y="277.5" width="5" height="8.3" fill="#ec4c60"/>
<rect x="569.54" y="250.6" width="1.4" height="41.9" fill="#98bcc2"/>
<rect x="567.74" y="255.0" width="5" height="31.5" fill="#4baf7d"/>
<rect x="575.91" y="200.3" width="1.4" height="73.8" fill="#98bcc2"/>
<rect x="574.11" y="221.7" width="5" height="33.3" fill="#4baf7d"/>
<rect x="582.28" y="178.2" width="1.4" height="68.8" fill="#f29aa4"/>
<rect x="580.48" y="220.8" width="5" height="21.4" fill="#ec4c60"/>
<rect x="588.65" y="219.1" width="1.4" height="45.5" fill="#f29aa4"/>
<rect x="586.85" y="241.5" width="5" height="19.8" fill="#ec4c60"/>
<rect x="595.02" y="235.1" width="1.4" height="27.1" fill="#98bcc2"/>
<rect x="593.22" y="242.2" width="5" height="19.1" fill="#4baf7d"/>
<rect x="601.39" y="200.8" width="1.4" height="45.5" fill="#98bcc2"/>
<rect x="599.59" y="207.5" width="5" height="35.9" fill="#4baf7d"/>
<rect x="607.75" y="155.0" width="1.4" height="52.5" fill="#98bcc2"/>
<rect x="605.95" y="194.4" width="5" height="13.1" fill="#4baf7d"/>
<rect x="614.12" y="142.4" width="1.4" height="69.8" fill="#98bcc2"/>
<rect x="612.32" y="186.5" width="5" height="8.6" fill="#4baf7d"/>
<rect x="620.49" y="186.5" width="1.4" height="55.2" fill="#f29aa4"/>
<rect x="618.69" y="187.2" width="5" height="42.5" fill="#ec4c60"/>
<rect x="626.86" y="200.8" width="1.4" height="33.0" fill="#98bcc2"/>
<rect x="625.06" y="229.1" width="5" height="1.7" fill="#4baf7d"/>
<rect x="633.23" y="219.1" width="1.4" height="35.9" fill="#f29aa4"/>
<rect x="631.43" y="228.1" width="5" height="24.6" fill="#ec4c60"/>
<rect x="639.60" y="241.7" width="1.4" height="24.0" fill="#f29aa4"/>
<rect x="637.80" y="252.0" width="5" height="7.5" fill="#ec4c60"/>
<rect x="645.97" y="248.4" width="1.4" height="18.6" fill="#f29aa4"/>
<rect x="644.17" y="258.6" width="5" height="1.2" fill="#ec4c60"/>
<rect x="652.34" y="240.0" width="1.4" height="20.1" fill="#98bcc2"/>
<rect x="650.54" y="244.6" width="5" height="14.3" fill="#4baf7d"/>
<rect x="658.71" y="234.5" width="1.4" height="34.0" fill="#f29aa4"/>
<rect x="656.91" y="244.2" width="5" height="19.9" fill="#ec4c60"/>
<rect x="665.08" y="248.2" width="1.4" height="18.8" fill="#98bcc2"/>
<rect x="663.28" y="257.1" width="5" height="7.0" fill="#4baf7d"/>
<rect x="671.44" y="254.2" width="1.4" height="32.3" fill="#f29aa4"/>
<rect x="669.64" y="258.0" width="5" height="26.1" fill="#ec4c60"/>
<rect x="677.81" y="272.9" width="1.4" height="18.4" fill="#98bcc2"/>
<rect x="676.01" y="274.1" width="5" height="10.0" fill="#4baf7d"/>
<rect x="684.18" y="262.5" width="1.4" height="18.8" fill="#98bcc2"/>
<rect x="682.38" y="271.0" width="5" height="3.1" fill="#4baf7d"/>
<rect x="690.55" y="261.7" width="1.4" height="18.9" fill="#f29aa4"/>
<rect x="688.75" y="271.7" width="5" height="4.8" fill="#ec4c60"/>
<rect x="696.92" y="267.0" width="1.4" height="15.9" fill="#98bcc2"/>
<rect x="695.12" y="270.3" width="5" height="7.9" fill="#4baf7d"/>
<rect x="703.29" y="270.3" width="1.4" height="21.0" fill="#f29aa4"/>
<rect x="701.49" y="270.3" width="5" height="20.5" fill="#ec4c60"/>
<rect x="709.66" y="286.0" width="1.4" height="12.4" fill="#f29aa4"/>
<rect x="707.86" y="290.1" width="5" height="6.4" fill="#ec4c60"/>
<rect x="716.03" y="292.5" width="1.4" height="17.9" fill="#f29aa4"/>
<rect x="714.23" y="295.6" width="5" height="8.3" fill="#ec4c60"/>
<rect x="722.40" y="293.7" width="1.4" height="12.3" fill="#98bcc2"/>
<rect x="720.60" y="296.0" width="5" height="7.7" fill="#4baf7d"/>
<rect x="728.77" y="296.2" width="1.4" height="10.5" fill="#f29aa4"/>
<rect x="726.97" y="296.2" width="5" height="6.3" fill="#ec4c60"/>
<rect x="735.13" y="298.0" width="1.4" height="9.0" fill="#98bcc2"/>
<rect x="733.33" y="301.5" width="5" height="1.4" fill="#4baf7d"/>
<rect x="741.50" y="289.4" width="1.4" height="17.2" fill="#98bcc2"/>
<rect x="739.70" y="297.0" width="5" height="6.7" fill="#4baf7d"/>
<rect x="747.87" y="294.2" width="1.4" height="12.4" fill="#98bcc2"/>
<rect x="746.07" y="296.0" width="5" height="1.7" fill="#4baf7d"/>
<rect x="754.24" y="294.9" width="1.4" height="12.8" fill="#f29aa4"/>
<rect x="752.44" y="295.4" width="5" height="8.3" fill="#ec4c60"/>
<rect x="760.61" y="290.1" width="1.4" height="14.8" fill="#98bcc2"/>
<rect x="758.81" y="292.5" width="5" height="11.2" fill="#4baf7d"/>
<rect x="766.98" y="291.0" width="1.4" height="6.7" fill="#f29aa4"/>
<rect x="765.18" y="292.5" width="5" height="4.5" fill="#ec4c60"/>
<rect x="773.35" y="294.9" width="1.4" height="10.7" fill="#f29aa4"/>
<rect x="771.55" y="297.0" width="5" height="4.3" fill="#ec4c60"/>
<rect x="779.72" y="300.8" width="1.4" height="12.9" fill="#f29aa4"/>
<rect x="777.92" y="300.8" width="5" height="10.0" fill="#ec4c60"/>
<rect x="786.09" y="301.3" width="1.4" height="14.8" fill="#98bcc2"/>
<rect x="784.29" y="304.2" width="5" height="6.6" fill="#4baf7d"/>
<rect x="792.46" y="292.5" width="1.4" height="13.6" fill="#98bcc2"/>
<rect x="790.66" y="298.9" width="5" height="7.2" fill="#4baf7d"/>
<rect x="798.82" y="277.5" width="1.4" height="22.6" fill="#98bcc2"/>
<rect x="797.02" y="281.8" width="5" height="17.8" fill="#4baf7d"/>
<rect x="805.19" y="271.5" width="1.4" height="20.3" fill="#98bcc2"/>
<rect x="803.39" y="276.3" width="5" height="5.5" fill="#4baf7d"/>
<rect x="811.56" y="267.9" width="1.4" height="16.7" fill="#f29aa4"/>
<rect x="809.76" y="276.3" width="5" height="4.3" fill="#ec4c60"/>
<rect x="817.93" y="276.8" width="1.4" height="13.3" fill="#f29aa4"/>
<rect x="816.13" y="279.9" width="5" height="7.1" fill="#ec4c60"/>
<rect x="824.30" y="273.2" width="1.4" height="13.8" fill="#98bcc2"/>
<rect x="822.50" y="278.7" width="5" height="7.1" fill="#4baf7d"/>
<rect x="830.67" y="271.0" width="1.4" height="13.6" fill="#98bcc2"/>
<rect x="828.87" y="273.4" width="5" height="6.5" fill="#4baf7d"/>
<rect x="837.04" y="269.8" width="1.4" height="8.2" fill="#f29aa4"/>
<rect x="835.24" y="273.4" width="5" height="1.7" fill="#ec4c60"/>
<rect x="843.41" y="271.0" width="1.4" height="16.7" fill="#f29aa4"/>
<rect x="841.61" y="274.6" width="5" height="8.8" fill="#ec4c60"/>
<rect x="849.78" y="279.4" width="1.4" height="9.5" fill="#f29aa4"/>
<rect x="847.98" y="283.0" width="5" height="5.9" fill="#ec4c60"/>
<rect x="856.15" y="288.2" width="1.4" height="9.1" fill="#f29aa4"/>
<rect x="854.35" y="288.2" width="5" height="2.4" fill="#ec4c60"/>
<rect x="862.51" y="275.8" width="1.4" height="17.2" fill="#98bcc2"/>
<rect x="860.71" y="281.5" width="5" height="8.6" fill="#4baf7d"/>
<rect x="868.88" y="254.1" width="1.4" height="31.7" fill="#98bcc2"/>
<rect x="867.08" y="255.3" width="5" height="28.1" fill="#4baf7d"/>
<rect x="875.25" y="250.1" width="1.4" height="14.7" fill="#98bcc2"/>
<rect x="873.45" y="254.8" width="5" height="1.2" fill="#4baf7d"/>
<rect x="881.62" y="249.6" width="1.4" height="10.5" fill="#98bcc2"/>
<rect x="879.82" y="250.8" width="5" height="5.2" fill="#4baf7d"/>
<rect x="887.99" y="251.3" width="1.4" height="15.0" fill="#f29aa4"/>
<rect x="886.19" y="251.3" width="5" height="9.5" fill="#ec4c60"/>
<rect x="894.36" y="221.0" width="1.4" height="46.2" fill="#98bcc2"/>
<rect x="892.56" y="242.9" width="5" height="17.9" fill="#4baf7d"/>
<rect x="900.73" y="225.8" width="1.4" height="23.9" fill="#98bcc2"/>
<rect x="898.93" y="241.8" width="5" height="2.6" fill="#4baf7d"/>
<rect x="907.10" y="224.8" width="1.4" height="21.5" fill="#98bcc2"/>
<rect x="905.30" y="228.2" width="5" height="14.8" fill="#4baf7d"/>
<rect x="913.47" y="201.0" width="1.4" height="42.6" fill="#98bcc2"/>
<rect x="911.67" y="212.6" width="5" height="15.6" fill="#4baf7d"/>
<rect x="919.84" y="198.4" width="1.4" height="20.4" fill="#98bcc2"/>
<rect x="918.04" y="210.4" width="5" height="1.6" fill="#4baf7d"/>
<rect x="926.20" y="187.7" width="1.4" height="23.8" fill="#98bcc2"/>
<rect x="924.40" y="200.8" width="5" height="10.7" fill="#4baf7d"/>
<rect x="932.57" y="194.4" width="1.4" height="27.8" fill="#f29aa4"/>
<rect x="930.77" y="200.3" width="5" height="19.6" fill="#ec4c60"/>
<rect x="938.94" y="190.1" width="1.4" height="29.0" fill="#98bcc2"/>
<rect x="937.14" y="195.3" width="5" height="23.8" fill="#4baf7d"/>
<rect x="945.31" y="192.9" width="1.4" height="23.4" fill="#f29aa4"/>
<rect x="943.51" y="195.3" width="5" height="21.0" fill="#ec4c60"/>
<rect x="951.68" y="210.3" width="1.4" height="16.7" fill="#f29aa4"/>
<rect x="949.88" y="215.1" width="5" height="8.3" fill="#ec4c60"/>
<rect x="958.05" y="222.2" width="1.4" height="17.9" fill="#f29aa4"/>
<rect x="956.25" y="222.2" width="5" height="10.3" fill="#ec4c60"/>
<rect x="964.42" y="227.0" width="1.4" height="12.6" fill="#f29aa4"/>
<rect x="962.62" y="231.3" width="5" height="6.4" fill="#ec4c60"/>
<rect x="970.79" y="234.2" width="1.4" height="13.5" fill="#f29aa4"/>
<rect x="968.99" y="236.5" width="5" height="10.1" fill="#ec4c60"/>
<rect x="977.16" y="233.0" width="1.4" height="13.1" fill="#98bcc2"/>
<rect x="975.36" y="236.5" width="5" height="9.6" fill="#4baf7d"/>
<rect x="983.53" y="231.1" width="1.4" height="10.2" fill="#f29aa4"/>
<rect x="981.73" y="236.1" width="5" height="1.6" fill="#ec4c60"/>
<rect x="989.89" y="226.3" width="1.4" height="13.8" fill="#98bcc2"/>
<rect x="988.09" y="228.2" width="5" height="9.5" fill="#4baf7d"/>
<rect x="996.26" y="210.3" width="1.4" height="19.8" fill="#98bcc2"/>
<rect x="994.46" y="219.4" width="5" height="10.7" fill="#4baf7d"/>
<rect x="1002.63" y="201.5" width="1.4" height="19.5" fill="#98bcc2"/>
<rect x="1000.83" y="209.1" width="5" height="11.9" fill="#4baf7d"/>
<rect x="1009.00" y="205.6" width="1.4" height="17.8" fill="#f29aa4"/>
<rect x="1007.20" y="208.7" width="5" height="14.0" fill="#ec4c60"/>
<rect x="1015.37" y="193.6" width="1.4" height="29.1" fill="#98bcc2"/>
<rect x="1013.57" y="199.1" width="5" height="23.6" fill="#4baf7d"/>
<rect x="1021.74" y="182.9" width="1.4" height="23.4" fill="#98bcc2"/>
<rect x="1019.94" y="192.0" width="5" height="7.6" fill="#4baf7d"/>
<rect x="1028.11" y="156.2" width="1.4" height="37.4" fill="#98bcc2"/>
<rect x="1026.31" y="185.3" width="5" height="8.3" fill="#4baf7d"/>
<rect x="1034.48" y="170.5" width="1.4" height="26.7" fill="#f29aa4"/>
<rect x="1032.68" y="186.5" width="5" height="5.2" fill="#ec4c60"/>
<rect x="1040.85" y="185.3" width="1.4" height="16.2" fill="#f29aa4"/>
<rect x="1039.05" y="190.1" width="5" height="1.6" fill="#ec4c60"/>
<rect x="1047.22" y="179.3" width="1.4" height="17.4" fill="#98bcc2"/>
<rect x="1045.42" y="186.0" width="5" height="5.7" fill="#4baf7d"/>
<rect x="1053.59" y="161.5" width="1.4" height="25.5" fill="#98bcc2"/>
<rect x="1051.79" y="181.0" width="5" height="6.0" fill="#4baf7d"/>
<rect x="1059.95" y="177.0" width="1.4" height="14.3" fill="#f29aa4"/>
<rect x="1058.15" y="181.7" width="5" height="7.2" fill="#ec4c60"/>
<rect x="1066.32" y="177.7" width="1.4" height="12.8" fill="#98bcc2"/>
<rect x="1064.52" y="184.1" width="5" height="5.5" fill="#4baf7d"/>
<rect x="1072.69" y="181.7" width="1.4" height="19.1" fill="#f29aa4"/>
<rect x="1070.89" y="183.6" width="5" height="4.1" fill="#ec4c60"/>
<rect x="1079.06" y="169.7" width="1.4" height="19.5" fill="#98bcc2"/>
<rect x="1077.26" y="170.3" width="5" height="17.7" fill="#4baf7d"/>
<rect x="1085.43" y="155.4" width="1.4" height="23.3" fill="#98bcc2"/>
<rect x="1083.63" y="160.9" width="5" height="10.6" fill="#4baf7d"/>
<rect x="1091.80" y="151.0" width="1.4" height="15.3" fill="#f29aa4"/>
<rect x="1090.00" y="160.9" width="5" height="2.0" fill="#ec4c60"/>
<rect x="1098.17" y="159.6" width="1.4" height="13.8" fill="#f29aa4"/>
<rect x="1096.37" y="162.3" width="5" height="7.5" fill="#ec4c60"/>
<rect x="1104.54" y="166.7" width="1.4" height="9.6" fill="#f29aa4"/>
<rect x="1102.74" y="168.7" width="5" height="4.7" fill="#ec4c60"/>
<rect x="1110.91" y="163.9" width="1.4" height="17.9" fill="#98bcc2"/>
<rect x="1109.11" y="166.7" width="5" height="7.2" fill="#4baf7d"/>
<rect x="1117.28" y="162.5" width="1.4" height="13.8" fill="#f29aa4"/>
<rect x="1115.48" y="166.7" width="5" height="9.6" fill="#ec4c60"/>
<rect x="1123.64" y="167.9" width="1.4" height="12.0" fill="#98bcc2"/>
<rect x="1121.84" y="172.0" width="5" height="3.8" fill="#4baf7d"/>
<rect x="1130.01" y="156.7" width="1.4" height="17.2" fill="#98bcc2"/>
<rect x="1128.21" y="161.5" width="5" height="12.4" fill="#4baf7d"/>
<rect x="1136.38" y="158.4" width="1.4" height="9.5" fill="#f29aa4"/>
<rect x="1134.58" y="161.5" width="5" height="2.1" fill="#ec4c60"/>
<rect x="1142.75" y="160.3" width="1.4" height="21.5" fill="#f29aa4"/>
<rect x="1140.95" y="162.0" width="5" height="1.6" fill="#ec4c60"/>
<rect x="1149.12" y="158.4" width="1.4" height="29.8" fill="#f29aa4"/>
<rect x="1147.32" y="162.0" width="5" height="23.3" fill="#ec4c60"/>
<rect x="1155.49" y="183.0" width="1.4" height="17.8" fill="#f29aa4"/>
<rect x="1153.69" y="183.0" width="5" height="17.8" fill="#ec4c60"/>
<rect x="1161.86" y="190.6" width="1.4" height="15.0" fill="#98bcc2"/>
<rect x="1160.06" y="194.2" width="5" height="6.6" fill="#4baf7d"/>
<rect x="1168.23" y="188.7" width="1.4" height="24.1" fill="#98bcc2"/>
<rect x="1166.43" y="192.5" width="5" height="3.6" fill="#4baf7d"/>
<rect x="1174.60" y="188.7" width="1.4" height="17.4" fill="#f29aa4"/>
<rect x="1172.80" y="192.5" width="5" height="3.6" fill="#ec4c60"/>
<rect x="1180.96" y="172.2" width="1.4" height="25.1" fill="#98bcc2"/>
<rect x="1179.16" y="175.8" width="5" height="20.7" fill="#4baf7d"/>
<rect x="1187.33" y="148.9" width="1.4" height="28.1" fill="#98bcc2"/>
<rect x="1185.53" y="154.4" width="5" height="22.6" fill="#4baf7d"/>
<rect x="1193.70" y="135.0" width="1.4" height="25.8" fill="#f29aa4"/>
<rect x="1191.90" y="154.4" width="5" height="2.8" fill="#ec4c60"/>
<rect x="1200.07" y="138.9" width="1.4" height="18.3" fill="#98bcc2"/>
<rect x="1198.27" y="144.6" width="5" height="12.1" fill="#4baf7d"/>
<rect x="1206.44" y="131.5" width="1.4" height="29.3" fill="#f29aa4"/>
<rect x="1204.64" y="144.6" width="5" height="11.4" fill="#ec4c60"/>
<rect x="1212.81" y="147.0" width="1.4" height="10.2" fill="#98bcc2"/>
<rect x="1211.01" y="153.6" width="5" height="2.4" fill="#4baf7d"/>
<rect x="1219.18" y="147.7" width="1.4" height="19.5" fill="#98bcc2"/>
<rect x="1217.38" y="153.6" width="5" height="1.7" fill="#4baf7d"/>
<rect x="1225.55" y="132.2" width="1.4" height="24.3" fill="#98bcc2"/>
<rect x="1223.75" y="143.6" width="5" height="11.2" fill="#4baf7d"/>
<rect x="1231.92" y="138.6" width="1.4" height="17.9" fill="#f29aa4"/>
<rect x="1230.12" y="144.8" width="5" height="10.0" fill="#ec4c60"/>
</g>
<rect x="1077" y="-2" width="464.8" height="564.6" fill="rgb(200,255,160)" fill-opacity="0.3"/>
<rect x="1076.8" y="-2" width="1.5" height="564.6" fill="#32881f"/>
<line x1="0" y1="154" x2="1541.8" y2="154" stroke="#de485a" stroke-width="1.25" stroke-dasharray="1.4 1.345"/>
<rect x="0" y="562.5" width="1600" height="1" fill="#4a4a4a"/>
<rect x="1541.8" y="0" width="1" height="587" fill="#4a4a4a"/>

<g>
<text x="4.8" y="19.8" font-size="16.8" fill="#626262" stroke="#626262" textLength="49.9" lengthAdjust="spacingAndGlyphs">Stacks</text>
<text x="62.8" y="19.8" font-size="16.8" fill="#626262" stroke="#626262" textLength="6" lengthAdjust="spacingAndGlyphs">/</text>
<text x="76.3" y="19.8" font-size="16.8" fill="#626262" stroke="#626262" textLength="71" lengthAdjust="spacingAndGlyphs">TetherUS</text>
<text x="152.6" y="18.6" font-size="11" fill="#626262" stroke="#626262">•</text>
<text x="163" y="19.8" font-size="16.8" fill="#626262" stroke="#626262" textLength="17" lengthAdjust="spacingAndGlyphs">15</text>
<text x="185.4" y="18.6" font-size="11" fill="#626262" stroke="#626262">•</text>
<text x="195" y="19.8" font-size="16.8" fill="#626262" stroke="#626262" textLength="69.4" lengthAdjust="spacingAndGlyphs">BINANCE</text>
<text x="280.7" y="19.5" font-size="13.6" fill="#5c5c5c" stroke="#5c5c5c" textLength="9.6" lengthAdjust="spacingAndGlyphs">O</text>
<text x="291.7" y="19.5" font-size="13.6" fill="#ea4e62" stroke="#ea4e62" textLength="43.4" lengthAdjust="spacingAndGlyphs">0.8768</text>
<text x="343.4" y="19.5" font-size="13.6" fill="#5c5c5c" stroke="#5c5c5c" textLength="8.7" lengthAdjust="spacingAndGlyphs">H</text>
<text x="353.8" y="19.5" font-size="13.6" fill="#ea4e62" stroke="#ea4e62" textLength="41.5" lengthAdjust="spacingAndGlyphs">0.8831</text>
<text x="405.5" y="19.5" font-size="13.6" fill="#5c5c5c" stroke="#5c5c5c" textLength="5.8" lengthAdjust="spacingAndGlyphs">L</text>
<text x="413.1" y="19.5" font-size="13.6" fill="#ea4e62" stroke="#ea4e62" textLength="43.1" lengthAdjust="spacingAndGlyphs">0.8650</text>
<text x="464.7" y="19.5" font-size="13.6" fill="#5c5c5c" stroke="#5c5c5c" textLength="8" lengthAdjust="spacingAndGlyphs">C</text>
<text x="474.5" y="19.5" font-size="13.6" fill="#ea4e62" stroke="#ea4e62" textLength="42.7" lengthAdjust="spacingAndGlyphs">0.8679</text>
<text x="525.7" y="19.5" font-size="13.6" fill="#ea4e62" stroke="#ea4e62" textLength="49.5" lengthAdjust="spacingAndGlyphs">−0.0092</text>
<text x="582.2" y="19.5" font-size="13.6" fill="#ea4e62" stroke="#ea4e62" textLength="54.4" lengthAdjust="spacingAndGlyphs">(−1.05%)</text>
<text x="4.8" y="45.5" font-size="14.6" fill="#626262" stroke="#626262" textLength="19.2" lengthAdjust="spacingAndGlyphs">Vol</text>
<text x="29.6" y="46.2" font-size="19" fill="#626262" stroke="#626262">·</text>
<text x="38.9" y="45.5" font-size="14.6" fill="#626262" stroke="#626262" textLength="23.2" lengthAdjust="spacingAndGlyphs">STX</text>
<text x="67.8" y="45.5" font-size="14.6" fill="#626262" stroke="#626262" textLength="14.4" lengthAdjust="spacingAndGlyphs">20</text>
<text x="99" y="45.5" font-size="14.6" fill="#ea4e62" stroke="#ea4e62" textLength="52.6" lengthAdjust="spacingAndGlyphs">862.08K</text>
<text x="158.4" y="45.5" font-size="14.6" fill="#ee9040" stroke="#ee9040" textLength="46.8" lengthAdjust="spacingAndGlyphs">1.392M</text>
<text x="4.5" y="72.6" font-size="14.6" fill="#626262" stroke="#626262" textLength="19.2" lengthAdjust="spacingAndGlyphs">MA</text>
<text x="28.9" y="72.6" font-size="14.6" fill="#626262" stroke="#626262" textLength="21.6" lengthAdjust="spacingAndGlyphs">100</text>
<text x="55.7" y="72.6" font-size="14.6" fill="#626262" stroke="#626262" textLength="33" lengthAdjust="spacingAndGlyphs">close</text>
<text x="93.9" y="72.6" font-size="14.6" fill="#626262" stroke="#626262" textLength="7.2" lengthAdjust="spacingAndGlyphs">0</text>
<text x="106.2" y="72.6" font-size="14.6" fill="#626262" stroke="#626262" textLength="25.8" lengthAdjust="spacingAndGlyphs">SMA</text>
<text x="136.1" y="72.6" font-size="14.6" fill="#626262" stroke="#626262" textLength="6.9" lengthAdjust="spacingAndGlyphs">5</text>
<text x="160" y="72.6" font-size="14.6" fill="#2a62f4" stroke="#2a62f4" textLength="43.5" lengthAdjust="spacingAndGlyphs">0.7532</text>
<text x="4.5" y="99.5" font-size="14.6" fill="#626262" stroke="#626262" textLength="19.2" lengthAdjust="spacingAndGlyphs">MA</text>
<text x="28.9" y="99.5" font-size="14.6" fill="#626262" stroke="#626262" textLength="14.6" lengthAdjust="spacingAndGlyphs">20</text>
<text x="48.5" y="99.5" font-size="14.6" fill="#626262" stroke="#626262" textLength="33" lengthAdjust="spacingAndGlyphs">close</text>
<text x="86.6" y="99.5" font-size="14.6" fill="#626262" stroke="#626262" textLength="7.2" lengthAdjust="spacingAndGlyphs">0</text>
<text x="98.8" y="99.5" font-size="14.6" fill="#626262" stroke="#626262" textLength="25.8" lengthAdjust="spacingAndGlyphs">SMA</text>
<text x="129" y="99.5" font-size="14.6" fill="#626262" stroke="#626262" textLength="6.7" lengthAdjust="spacingAndGlyphs">5</text>
<text x="152" y="99.5" font-size="14.6" fill="#ea3546" stroke="#ea3546" textLength="43" lengthAdjust="spacingAndGlyphs">0.8121</text>
<text x="4.5" y="127" font-size="14.6" fill="#626262" stroke="#626262" textLength="19.2" lengthAdjust="spacingAndGlyphs">MA</text>
<text x="28.9" y="127" font-size="14.6" fill="#626262" stroke="#626262" textLength="14.6" lengthAdjust="spacingAndGlyphs">50</text>
<text x="48.5" y="127" font-size="14.6" fill="#626262" stroke="#626262" textLength="33" lengthAdjust="spacingAndGlyphs">close</text>
<text x="86.6" y="127" font-size="14.6" fill="#626262" stroke="#626262" textLength="7.2" lengthAdjust="spacingAndGlyphs">0</text>
<text x="98.8" y="127" font-size="14.6" fill="#626262" stroke="#626262" textLength="25.8" lengthAdjust="spacingAndGlyphs">SMA</text>
<text x="129" y="127" font-size="14.6" fill="#626262" stroke="#626262" textLength="6.7" lengthAdjust="spacingAndGlyphs">5</text>
<text x="152" y="127" font-size="14.6" fill="#b566c4" stroke="#b566c4" textLength="44" lengthAdjust="spacingAndGlyphs">0.7793</text>
<rect x="4.7" y="138.7" width="32.6" height="21.8" rx="3.2" fill="#000" fill-opacity="0.85" stroke="#383e4c" stroke-width="1.3"/>
<path d="M16.6,151.7 L20.8,147.6 L25.1,151.7" fill="none" stroke="#dcdcdc" stroke-width="1.4"/>
<text x="105.4" y="582.6" font-size="12.3" fill="#6a6a6a" stroke="#6a6a6a" textLength="29.5" lengthAdjust="spacingAndGlyphs" text-anchor="middle">18:00</text>
<text x="258" y="582.6" font-size="12.3" fill="#6a6a6a" stroke="#6a6a6a" textLength="13.4" lengthAdjust="spacingAndGlyphs" font-weight="bold" stroke-width="0" text-anchor="middle">22</text>
<text x="411.3" y="582.6" font-size="12.3" fill="#6a6a6a" stroke="#6a6a6a" textLength="29.5" lengthAdjust="spacingAndGlyphs" text-anchor="middle">06:00</text>
<text x="564" y="582.6" font-size="12.3" fill="#6a6a6a" stroke="#6a6a6a" textLength="29.5" lengthAdjust="spacingAndGlyphs" text-anchor="middle">12:00</text>
<text x="716.8" y="582.6" font-size="12.3" fill="#6a6a6a" stroke="#6a6a6a" textLength="29.5" lengthAdjust="spacingAndGlyphs" text-anchor="middle">18:00</text>
<text x="869" y="582.6" font-size="12.3" fill="#6a6a6a" stroke="#6a6a6a" textLength="13.4" lengthAdjust="spacingAndGlyphs" font-weight="bold" stroke-width="0" text-anchor="middle">23</text>
<text x="1021.8" y="582.6" font-size="12.3" fill="#6a6a6a" stroke="#6a6a6a" textLength="29.5" lengthAdjust="spacingAndGlyphs" text-anchor="middle">06:00</text>
<text x="1175" y="582.6" font-size="12.3" fill="#6a6a6a" stroke="#6a6a6a" textLength="29.5" lengthAdjust="spacingAndGlyphs" text-anchor="middle">12:00</text>
<text x="1553" y="28.6" font-size="12.5" fill="#303030" stroke="#303030" textLength="37.2" lengthAdjust="spacingAndGlyphs">1.0000</text>
<rect x="1544" y="0" width="56" height="21" fill="#000"/>
<text x="1553" y="13.8" font-size="13" fill="#5a5a5a" stroke="#5a5a5a" textLength="29.2" lengthAdjust="spacingAndGlyphs">USDT</text>
<text x="1553" y="77.0" font-size="12.5" fill="#505050" stroke="#505050" textLength="37.2" lengthAdjust="spacingAndGlyphs">0.9500</text>
<text x="1553" y="126.4" font-size="12.5" fill="#505050" stroke="#505050" textLength="37.2" lengthAdjust="spacingAndGlyphs">0.9000</text>
<text x="1553" y="175.7" font-size="12.5" fill="#505050" stroke="#505050" textLength="37.2" lengthAdjust="spacingAndGlyphs">0.8500</text>
<text x="1553" y="225.1" font-size="12.5" fill="#505050" stroke="#505050" textLength="37.2" lengthAdjust="spacingAndGlyphs">0.8000</text>
<text x="1553" y="274.4" font-size="12.5" fill="#505050" stroke="#505050" textLength="37.2" lengthAdjust="spacingAndGlyphs">0.7500</text>
<text x="1553" y="323.8" font-size="12.5" fill="#505050" stroke="#505050" textLength="37.2" lengthAdjust="spacingAndGlyphs">0.7000</text>
<text x="1553" y="373.1" font-size="12.5" fill="#505050" stroke="#505050" textLength="37.2" lengthAdjust="spacingAndGlyphs">0.6500</text>
<text x="1553" y="422.4" font-size="12.5" fill="#505050" stroke="#505050" textLength="37.2" lengthAdjust="spacingAndGlyphs">0.6000</text>
<text x="1553" y="471.8" font-size="12.5" fill="#505050" stroke="#505050" textLength="37.2" lengthAdjust="spacingAndGlyphs">0.5500</text>
<text x="1553" y="521.1" font-size="12.5" fill="#505050" stroke="#505050" textLength="37.2" lengthAdjust="spacingAndGlyphs">0.5000</text>
<path d="M1541.7,145.3 H1593.5 Q1596,145.3 1596,147.8 V160.2 Q1596,162.7 1593.5,162.7 H1541.7 Z" fill="#e85266"/>
<text x="1552.7" y="158.4" font-size="12.5" fill="#fff" stroke="#fff" textLength="38.2" lengthAdjust="spacingAndGlyphs" font-weight="bold" stroke-width="0">0.8679</text>
<path d="M1541.7,200.9 H1593.5 Q1596,200.9 1596,203.4 V215.4 Q1596,217.9 1593.5,217.9 H1541.7 Z" fill="#f23645"/>
<text x="1552.7" y="213.8" font-size="12.5" fill="#fff" stroke="#fff" textLength="38.2" lengthAdjust="spacingAndGlyphs" font-weight="bold" stroke-width="0">0.8121</text>
<path d="M1541.7,232.9 H1593.5 Q1596,232.9 1596,235.4 V247.4 Q1596,249.9 1593.5,249.9 H1541.7 Z" fill="#ba68c8"/>
<text x="1552.7" y="245.8" font-size="12.5" fill="#fff" stroke="#fff" textLength="38.2" lengthAdjust="spacingAndGlyphs" font-weight="bold" stroke-width="0">0.7793</text>
<path d="M1541.7,259.5 H1593.5 Q1596,259.5 1596,262.0 V274.0 Q1596,276.5 1593.5,276.5 H1541.7 Z" fill="#2962ff"/>
<text x="1552.7" y="272.4" font-size="12.5" fill="#fff" stroke="#fff" textLength="38.2" lengthAdjust="spacingAndGlyphs" font-weight="bold" stroke-width="0">0.7532</text>
<path d="M1541.7,519.4 H1595.8 Q1598.3,519.4 1598.3,521.9 V534.7 Q1598.3,537.2 1595.8,537.2 H1541.7 Z" fill="#ff9850"/>
<text x="1553.7" y="532.7" font-size="12.5" fill="#1c1c1c" stroke="#1c1c1c" textLength="39" lengthAdjust="spacingAndGlyphs">1.392M</text>
<path d="M1541.7,537.0 H1598.5 Q1601,537.0 1601,539.5 V551.7 Q1601,554.2 1598.5,554.2 H1541.7 Z" fill="#e84a62"/>
<text x="1552.9" y="550.0" font-size="12.5" fill="#fff" stroke="#fff" textLength="43" lengthAdjust="spacingAndGlyphs">862.08K</text>
</g>
</svg>
</body></html>
